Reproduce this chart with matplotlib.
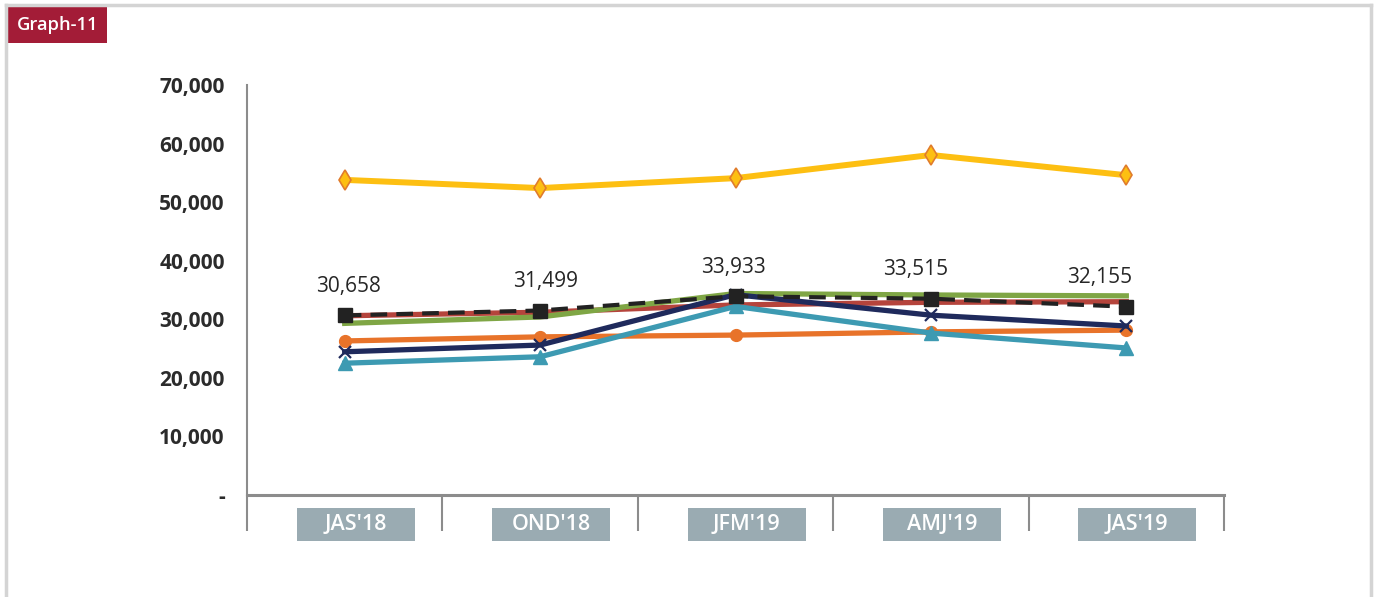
import matplotlib.pyplot as plt
from matplotlib.patches import Rectangle
from matplotlib.lines import Line2D
import matplotlib.transforms as mtransforms

quarters = ["JAS'18", "OND'18", "JFM'19", "AMJ'19", "JAS'19"]

# series (legend is not shown in the reference)
yellow_vals = [53800, 52400, 54100, 58050, 54600]
red_vals = [30600, 31200, 32450, 32900, 33000]
green_vals = [29300, 30400, 34400, 34150, 34000]
orange_vals = [26300, 27000, 27300, 27850, 28150]
teal_vals = [22500, 23600, 32200, 27650, 25100]
navy_vals = [24450, 25600, 34200, 30700, 28850]
total_vals = [30658, 31499, 33933, 33515, 32155]

yticks = [0, 10000, 20000, 30000, 40000, 50000, 60000, 70000]
ytick_labels = ['-', '10,000', '20,000', '30,000', '40,000', '50,000', '60,000', '70,000']

plt.rcParams['font.family'] = ['Open Sans', 'DejaVu Sans']

fig = plt.figure(figsize=(13.78, 5.97), dpi=100)
ax = fig.add_axes([247 / 1378, 102 / 597, (1224 - 247) / 1378, 410 / 597])

x = list(range(len(quarters)))
ax.plot(x, red_vals, color='#b5443c', lw=3.8, zorder=2)
ax.plot(x, green_vals, color='#7fa645', lw=3.8, zorder=2)
ax.plot(x, orange_vals, color='#e8732a', lw=3.8, marker='o', ms=8.5, zorder=3)
ax.plot(x, teal_vals, color='#3d9ab2', lw=3.8, marker='^', ms=9.5, zorder=3)
ax.plot(x, navy_vals, color='#1f2a5c', lw=3.8, marker='x', ms=9, mew=1.6, zorder=4)
ax.plot(x, total_vals, color='#222222', lw=3, ls=(0, (4, 2.2)), marker='s', ms=9.5, zorder=5)
ax.plot(x, yellow_vals, color='#fdbf12', lw=4.3, marker='d', ms=10, mfc='#fdbf12',
        mec='#e07c2c', mew=1.2, zorder=5)

label_shift = [4, 5, -2, -15, -27]
for i, v in enumerate(total_vals):
    ax.annotate(f'{v:,}', (i, v), xytext=(label_shift[i] * 0.72, 21), textcoords='offset points',
                ha='center', va='center', fontsize=15, color='#262626', fontweight='medium')

ax.set_xlim(-0.5, 4.5)
ax.set_ylim(0, 70000)
ax.set_yticks(yticks)
ax.set_yticklabels(ytick_labels)
ax.tick_params(axis='y', length=0, pad=16, labelsize=15, labelcolor='#2b2b2b')
for lab in ax.get_yticklabels():
    lab.set_fontweight('bold')

ax.set_xticks([i - 0.5 for i in range(len(quarters) + 1)])
ax.set_xticklabels([])
ax.tick_params(axis='x', length=26, width=1.5, color='#8c8c8c', direction='out')

for side in ['top', 'right']:
    ax.spines[side].set_visible(False)
ax.spines['left'].set_color('#8c8c8c')
ax.spines['left'].set_linewidth(1.5)
ax.spines['bottom'].set_color('#8c8c8c')
ax.spines['bottom'].set_linewidth(2.2)

trans = mtransforms.blended_transform_factory(ax.transData, ax.transAxes)
box_w = 118 / 195.4
box_dx = 11 / 195.4
for i, q in enumerate(quarters):
    ax.add_patch(Rectangle((i + box_dx - box_w / 2, -46 / 410), box_w, 33 / 410, transform=trans,
                           facecolor='#9aabb2', edgecolor='none', clip_on=False))
    ax.text(i + box_dx, -29.5 / 410, q, transform=trans, ha='center', va='center', color='white',
            fontsize=15.5, fontweight='semibold')

# outer frame and the title tag
W, H = 1378, 597
border = '#d4d4d4'
fig.add_artist(Line2D([6 / W, 6 / W], [0, 1 - 5 / H], color=border, lw=2.5))
fig.add_artist(Line2D([6 / W, 1371 / W], [1 - 5 / H, 1 - 5 / H], color=border, lw=2.5))
fig.add_artist(Line2D([1371 / W, 1371 / W], [0, 1 - 5 / H], color=border, lw=2.5))
fig.add_artist(Rectangle((8 / W, 1 - 43 / H), 99 / W, 36 / H, transform=fig.transFigure,
                         facecolor='#a31c37', edgecolor='none'))
fig.text(57.5 / W, 1 - 25 / H, 'Graph-11', ha='center', va='center', color='white',
         fontsize=13.2, fontweight='semibold')

fig.savefig('out.png', dpi=100)
